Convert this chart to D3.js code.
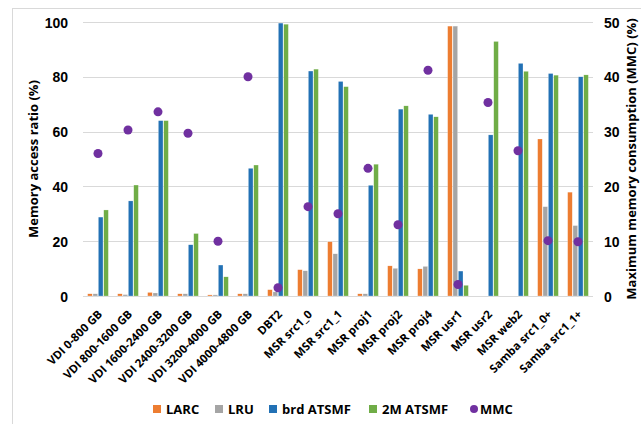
<!DOCTYPE html>
<html>
<head>
<meta charset="utf-8">
<script src="https://cdn.jsdelivr.net/npm/d3@7"></script>
<style>
    body { margin: 0; background: #fff; }
    svg { display: block; font-family: "Open Sans", Lato, sans-serif; font-weight: bold; }
    .axis text { font-size: 14px; fill: #000; }
    .axis path, .axis line { display: none; }
    .grid line { stroke: #d9d9d9; stroke-width: 1; }
</style>
</head>
<body>
<div class="chart"></div>
<script>

//////////
// DATA //
//////////

var categories = ['VDI 0-800 GB', 'VDI 800-1600 GB', 'VDI 1600-2400 GB', 'VDI 2400-3200 GB',
    'VDI 3200-4000 GB', 'VDI 4000-4800 GB', 'DBT2', 'MSR src1_0', 'MSR src1_1', 'MSR proj1',
    'MSR proj2', 'MSR proj4', 'MSR usr1', 'MSR usr2', 'MSR web2', 'Samba src1_0+', 'Samba src1_1+'];

var larc = [0.8, 0.8, 1.3, 0.8, 0.4, 0.8, 2.3, 9.6, 19.8, 0.8, 11.0, 9.9, 98.5, 0, 0, 57.3, 37.9];
var lru = [0.8, 0.5, 1.1, 0.8, 0.4, 0.8, 1.5, 9.2, 15.4, 0.8, 10.1, 10.8, 98.5, 0, 0, 32.6, 25.7];
var brdAtsmf = [28.8, 34.7, 64, 18.7, 11.3, 46.6, 99.6, 82.1, 78.3, 40.4, 68.2, 66.3, 9.1, 58.8, 84.9, 81.2, 80];
var twoMAtsmf = [31.4, 40.5, 64, 22.8, 7.0, 47.8, 99.2, 82.8, 76.4, 48.1, 69.4, 65.4, 3.9, 92.9, 82, 80.6, 80.7];
var mmc = [26, 30.3, 33.6, 29.7, 10, 40, 1.5, 16.3, 15, 23.3, 13, 41.2, 2.1, 35.3, 26.5, 10.1, 9.9];

var seriesNames = ['LARC', 'LRU', 'brd ATSMF', '2M ATSMF'];
var seriesValues = [larc, lru, brdAtsmf, twoMAtsmf];
var seriesColors = ['#ED7D31', '#A5A5A5', '#2271B5', '#70AD47'];
var mmcColor = '#7030A0';

var leftTicks = [0, 20, 40, 60, 80, 100];
var rightTicks = [0, 10, 20, 30, 40, 50];

////////////////
// DIMENSIONS //
////////////////

var w = 641,
    h = 424,
    plotLeft = 83,
    plotRight = 593,
    plotTop = 22,
    plotBottom = 296;

var svg = d3.select('.chart')
    .append('svg')
    .attr('width', w)
    .attr('height', h);

// light chart border (only top and left edges are inside the window)
svg.append('rect')
    .attr('x', 12.5)
    .attr('y', 8.5)
    .attr('width', 700)
    .attr('height', 500)
    .attr('fill', 'none')
    .attr('stroke', '#d9d9d9');

////////////
// SCALES //
////////////

var x0 = d3.scaleBand()
    .domain(categories)
    .range([plotLeft, plotRight])
    .paddingInner(0.31)
    .paddingOuter(0.155);

var x1 = d3.scaleBand()
    .domain(seriesNames)
    .range([0, x0.bandwidth()])
    .paddingInner(0.14);

var yLeft = d3.scaleLinear()
    .domain([0, 100])
    .range([plotBottom, plotTop]);

var yRight = d3.scaleLinear()
    .domain([0, 50])
    .range([plotBottom, plotTop]);

//////////
// GRID //
//////////

svg.append('g')
    .attr('class', 'grid')
    .selectAll('line')
    .data(leftTicks)
    .enter()
    .append('line')
    .attr('x1', plotLeft)
    .attr('x2', plotRight)
    .attr('y1', function(d) { return Math.round(yLeft(d)) + 0.5; })
    .attr('y2', function(d) { return Math.round(yLeft(d)) + 0.5; });

//////////
// AXIS //
//////////

svg.append('g')
    .attr('class', 'axis')
    .attr('transform', 'translate(' + (plotLeft - 6) + ',0)')
    .call(d3.axisLeft(yLeft).tickValues(leftTicks).tickSize(0).tickPadding(9));

svg.append('g')
    .attr('class', 'axis')
    .attr('transform', 'translate(' + (plotRight + 2) + ',0)')
    .call(d3.axisRight(yRight).tickValues(rightTicks).tickSize(0).tickPadding(9));

svg.selectAll('.axis text')
    .attr('dy', '0.36em');

// category labels, rotated
svg.append('g')
    .selectAll('text')
    .data(categories)
    .enter()
    .append('text')
    .attr('transform', function(d) {
        return 'translate(' + (x0(d) + x0.bandwidth() / 2 + 5) + ',315) rotate(-45)';
    })
    .attr('text-anchor', 'end')
    .attr('font-size', 11.5)
    .text(function(d) { return d; });

// axis titles
svg.append('text')
    .attr('transform', 'translate(38,' + ((plotTop + plotBottom) / 2) + ') rotate(-90)')
    .attr('text-anchor', 'middle')
    .attr('font-size', 13)
    .text('Memory access ratio (%)');

svg.append('text')
    .attr('transform', 'translate(636,' + ((plotTop + plotBottom) / 2) + ') rotate(-90)')
    .attr('text-anchor', 'middle')
    .attr('font-size', 13)
    .text('Maximum memory consumption (MMC) (%)');

//////////
// BARS //
//////////

var groups = svg.append('g')
    .selectAll('.group')
    .data(categories)
    .enter()
    .append('g')
    .attr('class', 'group')
    .attr('transform', function(d) { return 'translate(' + x0(d) + ',0)'; });

groups.selectAll('rect')
    .data(function(d, i) {
        return seriesNames.map(function(s, j) {
            return { name: s, value: seriesValues[j][i], color: seriesColors[j] };
        });
    })
    .enter()
    .append('rect')
    .attr('x', function(d) { return x1(d.name); })
    .attr('y', function(d) { return yLeft(d.value); })
    .attr('width', x1.bandwidth())
    .attr('height', function(d) { return yLeft(0) - yLeft(d.value); })
    .attr('fill', function(d) { return d.color; })
    .attr('stroke', '#fff')
    .attr('stroke-width', 0.4)
    .attr('stroke-opacity', 0.6);

/////////
// MMC //
/////////

svg.append('g')
    .selectAll('circle')
    .data(mmc)
    .enter()
    .append('circle')
    .attr('cx', function(d, i) { return x0(categories[i]) + x0.bandwidth() / 2; })
    .attr('cy', function(d) { return yRight(d); })
    .attr('r', 4.5)
    .attr('fill', mmcColor);

////////////
// LEGEND //
////////////

var legendItems = seriesNames.concat(['MMC']);
var legendX = [153, 215, 269, 369, 470];

var legend = svg.append('g')
    .selectAll('.legend')
    .data(legendItems)
    .enter()
    .append('g')
    .attr('class', 'legend')
    .attr('transform', function(d, i) { return 'translate(' + legendX[i] + ',409)'; });

legend.filter(function(d) { return d !== 'MMC'; })
    .append('rect')
    .attr('x', 0)
    .attr('y', -4)
    .attr('width', 8)
    .attr('height', 8)
    .attr('fill', function(d, i) { return seriesColors[i]; });

legend.filter(function(d) { return d === 'MMC'; })
    .append('circle')
    .attr('cx', 4)
    .attr('cy', 0)
    .attr('r', 4)
    .attr('fill', mmcColor);

legend.append('text')
    .attr('x', function(d) { return d === 'MMC' ? 10 : 13; })
    .attr('dy', '0.36em')
    .attr('font-size', 13)
    .text(function(d) { return d; });

</script>
</body>
</html>
